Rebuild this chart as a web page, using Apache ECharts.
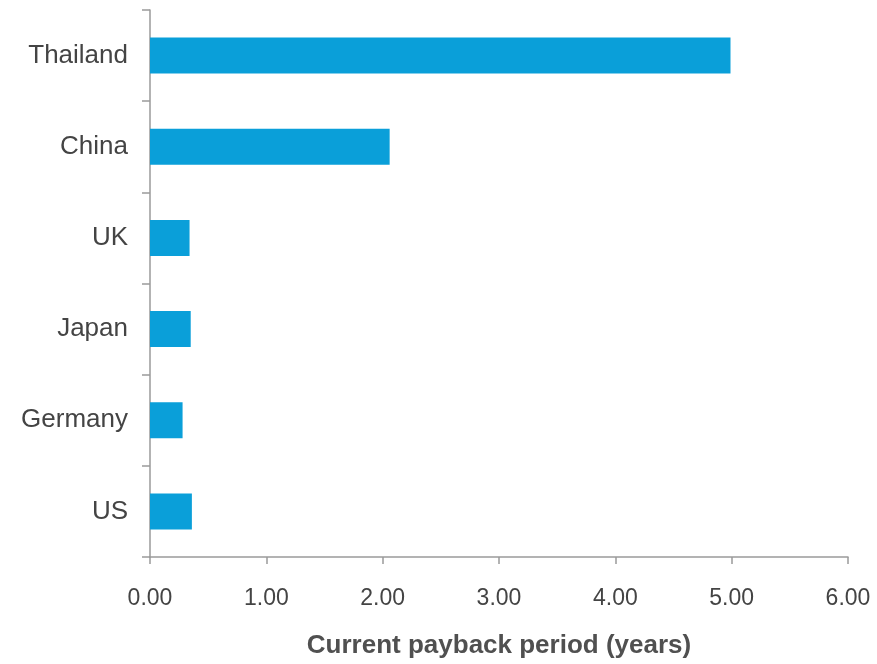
<!DOCTYPE html>
<html>
<head>
<meta charset="utf-8">
<script src="https://cdn.jsdelivr.net/npm/echarts@6/dist/echarts.min.js"></script>
<style>
  html, body { margin: 0; padding: 0; background: #fff; }
  #main { width: 877px; height: 664px; }
</style>
</head>
<body>
<div id="main"></div>
<script>
var countries = ['Thailand', 'China', 'UK', 'Japan', 'Germany', 'US'];
var payback = [4.99, 2.06, 0.34, 0.35, 0.28, 0.36];
var xTicks = [0, 1, 2, 3, 4, 5, 6];

var chart = echarts.init(document.getElementById('main'));

var option = {
    animation: false,
    grid: {
        left: 150,
        right: 29,
        top: 10,
        bottom: 106,
        containLabel: false
    },
    xAxis: {
        type: 'value',
        min: xTicks[0],
        max: xTicks[xTicks.length - 1],
        interval: 1,
        name: 'Current payback period (years)',
        nameLocation: 'middle',
        nameGap: 76,
        nameTextStyle: {
            color: '#505050',
            fontSize: 26,
            fontWeight: 'bold',
            fontFamily: 'Liberation Sans, Arial, sans-serif'
        },
        axisLine: { show: true, lineStyle: { color: '#9a9a9a', width: 1.5 } },
        axisTick: { show: true, length: 7, lineStyle: { color: '#9a9a9a', width: 1.5 } },
        axisLabel: {
            color: '#444',
            fontSize: 23,
            margin: 30,
            fontFamily: 'Liberation Sans, Arial, sans-serif',
            formatter: function (v) { return v.toFixed(2); }
        },
        splitLine: { show: false }
    },
    yAxis: {
        type: 'category',
        inverse: true,
        data: countries,
        axisLine: { show: true, lineStyle: { color: '#9a9a9a', width: 1.5 } },
        axisTick: { show: true, length: 8, lineStyle: { color: '#9a9a9a', width: 1.5 } },
        axisLabel: {
            color: '#444',
            fontSize: 26,
            margin: 22,
            fontFamily: 'Liberation Sans, Arial, sans-serif'
        }
    },
    series: [{
        type: 'bar',
        data: payback,
        barWidth: 36,
        itemStyle: { color: '#0a9fd9' }
    }]
};

chart.setOption(option);
window.addEventListener('resize', function () {
    chart.resize();
});
</script>
</body>
</html>
